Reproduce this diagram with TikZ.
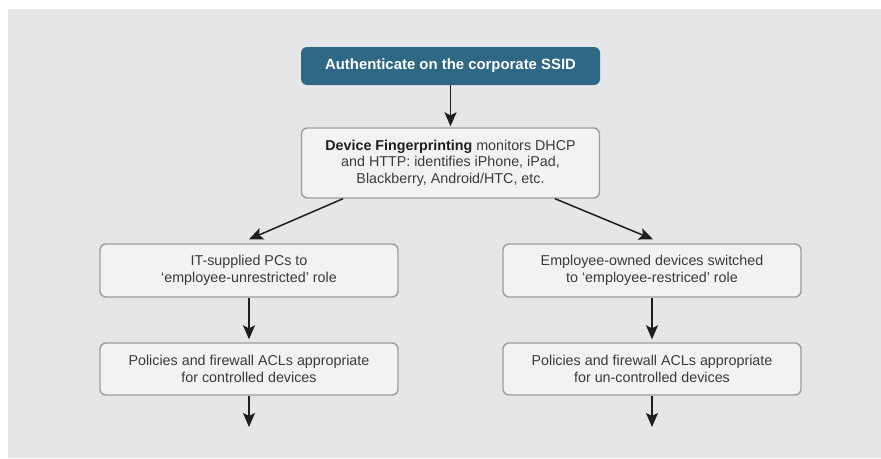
\documentclass[tikz,border=0pt]{standalone}
\usepackage{fontspec}
\setmainfont{Liberation Sans}
\usetikzlibrary{arrows.meta}
\definecolor{panelgrey}{HTML}{E5E6E8}
\definecolor{boxfill}{HTML}{F1F2F4}
\definecolor{boxline}{HTML}{9C9DA0}
\definecolor{headfill}{HTML}{2F6884}
\definecolor{bodytext}{HTML}{3A3A3C}
\definecolor{arrowcol}{HTML}{1E1E1E}
\tikzset{
  stepbox/.style={draw=boxline, line width=1.4pt, fill=boxfill, rounded corners=6pt,
    minimum width=298pt, align=center, text=bodytext, inner sep=0pt,
    font=\fontsize{14.3}{16.6}\selectfont},
  headbox/.style={fill=headfill, rounded corners=6pt, minimum width=299pt,
    minimum height=38pt, text=white, inner sep=0pt,
    font=\fontsize{14.9}{17}\selectfont\bfseries},
  flow/.style={draw=arrowcol, line width=1.5pt,
    -{Stealth[length=14pt, width=12pt, inset=3pt]}}
}
\begin{document}
\begin{tikzpicture}[x=1pt, y=-1pt]
\useasboundingbox (0,0) rectangle (881,458);
\fill[panelgrey] (8,9) rectangle (881,458);

\node[headbox] (auth) at (450.5,66) {Authenticate on the corporate SSID};
\node[stepbox, minimum height=70pt] (finger) at (450.5,163)
  {{\color{black!88}\bfseries Device Fingerprinting} monitors DHCP\\
   and HTTP: identifies iPhone, iPad,\\
   Blackberry, Android/HTC, etc.};

\node[stepbox, minimum height=53pt] (itpc) at (249,270.5)
  {IT-supplied PCs to\\ ‘employee-unrestricted’ role};
\node[stepbox, minimum height=52pt] (ctrl) at (249,369)
  {Policies and firewall ACLs appropriate\\ for controlled devices};

\node[stepbox, minimum height=53pt] (own) at (652,270.5)
  {Employee-owned devices switched\\ to ‘employee-restriced’ role};
\node[stepbox, minimum height=52pt] (unctrl) at (652,369)
  {Policies and firewall ACLs appropriate\\ for un-controlled devices};

\coordinate (ctrlout) at (249,427);
\coordinate (unctrlout) at (652,427);

\draw[flow] (auth.south) -- ([yshift=1pt]finger.north);
\draw[flow] ([xshift=-107.5pt]finger.south) -- ([yshift=4pt]itpc.north);
\draw[flow] ([xshift=104.5pt]finger.south) -- ([xshift=1pt,yshift=4pt]own.north);
\draw[flow] (itpc.south) -- ([yshift=3pt]ctrl.north);
\draw[flow] (own.south) -- ([yshift=3pt]unctrl.north);
\draw[flow] (ctrl.south) -- (ctrlout);
\draw[flow] (unctrl.south) -- (unctrlout);
\end{tikzpicture}
\end{document}
